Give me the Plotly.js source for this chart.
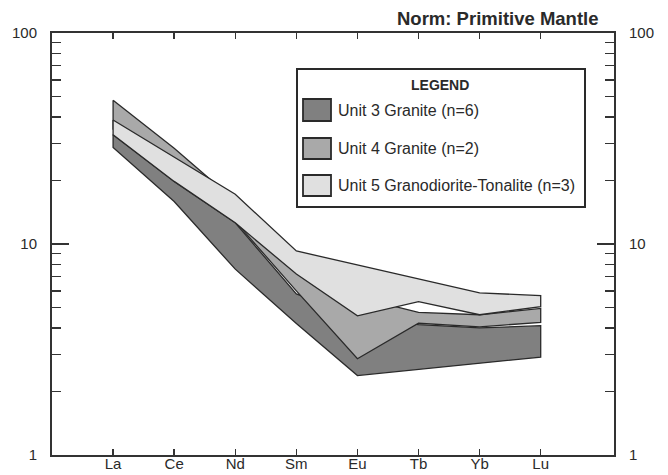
<!DOCTYPE html>
<html>
<head>
<meta charset="utf-8">
<script src="https://cdn.plot.ly/plotly-3.0.1.min.js"></script>
<style>html,body{margin:0;padding:0;background:#fff;}#chart{width:668px;height:475px;}</style>
</head>
<body>
<div id="chart"></div>
<script>
// Rare earth elements (x categories)
const elements = ['La', 'Ce', 'Nd', 'Sm', 'Eu', 'Tb', 'Yb', 'Lu'];

// Unit 3 Granite (n=6) envelope
const unit3Upper = [33.0, 19.8, 12.6, 5.8, 4.5, 4.15, 4.0, 4.1];
const unit3Lower = [28.7, 15.9, 7.6, 4.2, 2.38, 2.55, 2.72, 2.91];

// Unit 4 Granite (n=2) envelope
const unit4Upper = [48.0, 28.4, 16.0, 8.0, 5.6, 4.74, 4.62, 4.95];
const unit4Lower = [35.0, 22.0, 12.8, 6.0, 2.86, 4.21, 4.05, 4.25];

// Unit 5 Granodiorite-Tonalite (n=3) envelope
const unit5Upper = [38.7, 25.7, 17.2, 9.27, 7.96, 6.84, 5.87, 5.69];
const unit5Lower = [32.9, 19.8, 12.6, 7.2, 4.57, 5.33, 4.62, 5.05];

const seriesNames = ['Unit 3 Granite (n=6)', 'Unit 4 Granite (n=2)', 'Unit 5 Granodiorite-Tonalite (n=3)'];
const yTickVals = [1, 10, 100];
const yTickText = ['1', '10', '100'];
const yMinorVals = [2,3,4,5,6,7,8,9,20,30,40,50,60,70,80,90];

const colors = ['#808080', '#a9a9a9', '#e0e0e0'];
const edge = '#2a2a2a';
const txt = '#2a2a2a';
const FONT = 'Liberation Sans, Arial, Helvetica, sans-serif';

const idx = elements.map((e, i) => i + 1);
function envelope(up, lo, color, name, yaxis) {
  return {
    type: 'scatter', mode: 'lines', name: name,
    x: idx.concat(idx.slice().reverse()).concat([idx[0]]),
    y: up.concat(lo.slice().reverse()).concat([up[0]]),
    fill: 'toself', fillcolor: color,
    line: {color: edge, width: 1.3},
    hoverinfo: 'skip', showlegend: false,
    yaxis: yaxis
  };
}

const traces = [
  envelope(unit3Upper, unit3Lower, colors[0], seriesNames[0], 'y'),
  envelope(unit4Upper, unit4Lower, colors[1], seriesNames[1], 'y'),
  envelope(unit5Upper, unit5Lower, colors[2], seriesNames[2], 'y2')
];

// Plot-area pixel -> paper helpers
const L = 52, R = 614, T = 33, B = 455;
const px = x => (x - L) / (R - L);
const py = y => (B - y) / (B - T);

const shapes = [
  {type: 'rect', xref: 'paper', yref: 'paper', x0: px(297), x1: px(585), y0: py(207), y1: py(69),
   line: {color: edge, width: 2}, fillcolor: 'rgba(255,255,255,1)', layer: 'above'}
];
const rows = [[99, 121], [138, 159], [175, 196]];
rows.forEach((r, i) => {
  shapes.push({type: 'rect', xref: 'paper', yref: 'paper', x0: px(303), x1: px(331), y0: py(r[1]), y1: py(r[0]),
    line: {color: edge, width: 1.8}, fillcolor: colors[i], layer: 'above'});
});

const annotations = [
  {xref: 'paper', yref: 'paper', x: px(601), y: py(19), xanchor: 'right', yanchor: 'middle', showarrow: false,
   text: '<b>Norm: Primitive Mantle</b>', font: {family: FONT, size: 18.5, color: txt}},
  {xref: 'paper', yref: 'paper', x: px(440), y: py(85), xanchor: 'center', yanchor: 'middle', showarrow: false,
   text: '<b>LEGEND</b>', font: {family: FONT, size: 14, color: txt}}
];
rows.forEach((r, i) => {
  annotations.push({xref: 'paper', yref: 'paper', x: px(336), y: py((r[0] + r[1]) / 2), xanchor: 'left', yanchor: 'middle',
    showarrow: false, text: seriesNames[i], font: {family: FONT, size: 16, color: txt}});
});

const yCommon = {
  type: 'log', range: [0, 2], tickmode: 'array', tickvals: yTickVals, ticktext: yTickText,
  ticks: 'inside', ticklen: 17, tickwidth: 1.5, tickcolor: '#333',
  minor: {tickmode: 'array', tickvals: yMinorVals, ticks: 'inside', ticklen: 9, tickwidth: 1.5, tickcolor: '#333', showgrid: false},
  showline: true, linecolor: '#333', linewidth: 2, showgrid: false, zeroline: false,
  tickfont: {family: FONT, size: 15, color: txt}, fixedrange: true
};

const layout = {
  width: 668, height: 475,
  margin: {l: L, r: 668 - R, t: T, b: 475 - B, pad: 0},
  paper_bgcolor: '#fff', plot_bgcolor: '#fff',
  showlegend: false,
  xaxis: {
    range: [0, 9.2], tickmode: 'array', tickvals: idx, ticktext: elements,
    ticks: 'inside', ticklen: 6, tickwidth: 1.5, tickcolor: '#333', mirror: 'ticks',
    showline: true, linecolor: '#333', linewidth: 2, showgrid: false, zeroline: false,
    tickfont: {family: FONT, size: 15, color: txt}, ticklabelstandoff: -6
  },
  yaxis: Object.assign({}, yCommon, {side: 'left', ticklabelstandoff: 10}),
  yaxis2: Object.assign({}, yCommon, {side: 'right', overlaying: 'y', ticklabelstandoff: 10}),
  shapes: shapes,
  annotations: annotations
};

Plotly.newPlot('chart', traces, layout, {staticPlot: true, displayModeBar: false});
</script>
</body>
</html>
